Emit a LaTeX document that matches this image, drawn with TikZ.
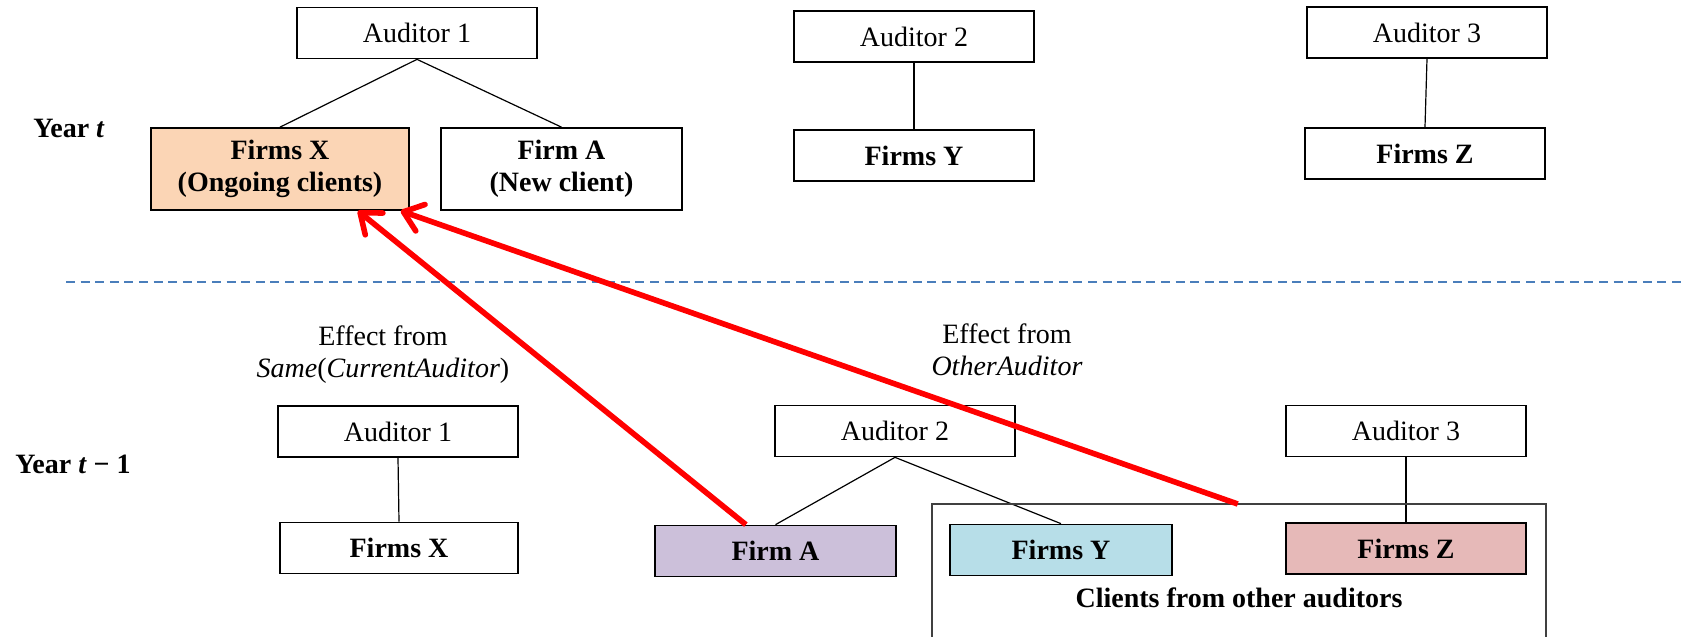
\documentclass[tikz,border=0pt]{standalone}
\usepackage{fontspec}
\setmainfont{Liberation Serif}
\usetikzlibrary{arrows.meta,calc}

\definecolor{ongoing}{HTML}{FBD5B5}
\definecolor{firmA}{HTML}{CCC0DA}
\definecolor{firmY}{HTML}{B7DEE8}
\definecolor{firmZ}{HTML}{E6B9B8}
\definecolor{divider}{HTML}{4A7EBB}

\begin{document}
\begin{tikzpicture}[
  x=0.5pt, y=-0.5pt,
  txt/.style={font=\fontsize{14}{16}\selectfont},
  box/.style={draw, line width=0.85pt, inner sep=0pt, align=center,
              minimum width=120pt, minimum height=25.5pt, txt},
  firm/.style={box, font=\fontsize{14}{16}\selectfont\bfseries},
  tall/.style={minimum height=41pt},
  link/.style={line width=0.6pt},
  effect/.style={draw=red, line width=2.8pt,
                 -{Straight Barb[length=9pt,width=14pt,round]}},
  label/.style={txt, align=center, inner sep=0pt},
  heading/.style={label, font=\fontsize{14}{16}\selectfont\bfseries}
]
\useasboundingbox (0,0) rectangle (1683,637);

% ---------- year t ----------
\node[box] (tA1) at (417,33) {Auditor 1};
\node[firm, tall, fill=ongoing, minimum width=129pt] (tFX) at (280,169)
  {Firms X\\(Ongoing clients)};
\node[firm, tall, minimum width=120.5pt] (tFA) at (561.5,169)
  {Firm A\\(New client)};
\node[box] (tA2) at (914,36.5) {Auditor 2};
\node[firm] (tFY) at (914,155.5) {Firms Y};
\node[box] (tA3) at (1427,32.5) {Auditor 3};
\node[firm] (tFZ) at (1425,153.5) {Firms Z};

\draw[link] (tA1.south) -- (tFX.north);
\draw[link] (tA1.south) -- (tFA.north);
\draw[link] (tA2.south) -- (tFY.north);
\draw[link] (tA3.south) -- (tFZ.north);

\node[heading] (yt) at (69,128) {Year \textit{t}};

% ---------- divider ----------
\coordinate (dL) at (66,282);
\coordinate (dR) at (1683,282);
\draw[divider, line width=1pt, dash pattern=on 4.5pt off 2.8pt] (dL) -- (dR);

% ---------- year t-1 ----------
\node[heading] (yt1) at (73,464) {Year \textit{t} − 1};

\node[box] (bA1) at (398,431.5) {Auditor 1};
\node[firm, minimum width=119pt] (bFX) at (399,548) {Firms X};
\node[box] (bA2) at (895,431) {Auditor 2};
\node[firm, fill=firmA, minimum width=120.5pt] (bFA) at (775.5,551) {Firm A};
\node[firm, fill=firmY, minimum width=111pt] (bFY) at (1061,550) {Firms Y};
\node[box] (bA3) at (1406,431) {Auditor 3};
\node[firm, fill=firmZ] (bFZ) at (1406,548.5) {Firms Z};

\draw[link] (bA1.south) -- (bFX.north);
\draw[link] (bA2.south) -- (bFA.north);
\draw[link] (bA2.south) -- (bFY.north);
\draw[link] (bA3.south) -- (bFZ.north);

% group of clients of the other auditors (open at the bottom)
\coordinate (gBL) at (932,650);
\coordinate (gTL) at (932,504);
\coordinate (gTR) at (1546,504);
\coordinate (gBR) at (1546,650);
\draw[line width=0.6pt, black!75] (gBL) -- (gTL) -- (gTR) -- (gBR);
\node[heading] (grp) at (1239,598) {Clients from other auditors};

% ---------- effect labels ----------
\node[label] (eff1) at (383,355)
  {Effect from\\\textit{Same}(\textit{CurrentAuditor})};
\node[label] (eff2) at (1007,350)
  {Effect from\\\textit{OtherAuditor}};

% ---------- effects ----------
\coordinate (s1) at ($(bFA.north west)!0.378!(bFA.north east)$);
\coordinate (s2) at ($(gTL)!0.498!(gTR)$);
\coordinate (t1) at ($(tFX.south west)!0.80!(tFX.south east)$);
\coordinate (t2) at ($(tFX.south west)!0.965!(tFX.south east)$);
\draw[effect] (s1) -- (t1);
\draw[effect] (s2) -- (t2);
\end{tikzpicture}
\end{document}
